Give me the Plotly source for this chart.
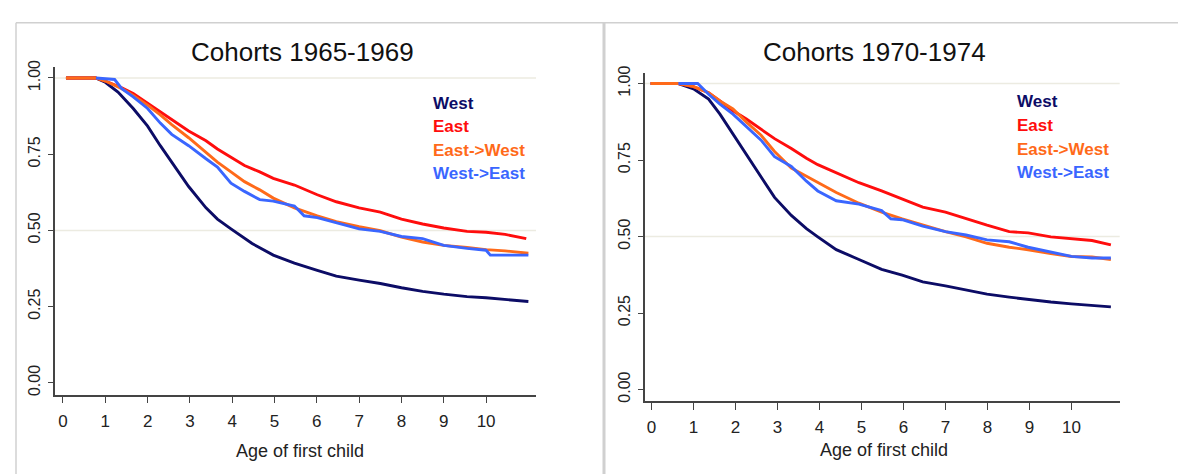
import plotly.graph_objects as go

W, H = 1186, 474
FONT = "Liberation Sans, Arial, Helvetica, sans-serif"

series_names = ["West", "East", "East->West", "West->East"]
series_colors = ["#0c0c66", "#ff0d0d", "#ff6a1a", "#3a66ff"]

panel_titles = ["Cohorts 1965-1969", "Cohorts 1970-1974"]
x_title = "Age of first child"
x_ticks = list(range(11))
y_ticks = [0.0, 0.25, 0.5, 0.75, 1.0]

# ---- Cohorts 1965-1969 (survival estimates) ----
c65_west_t = [0.07, 0.77, 1.0, 1.3, 1.66, 2.0, 2.3, 2.57, 2.97, 3.38, 3.65, 3.97, 4.47, 4.97,
              5.47, 6.01, 6.46, 7.0, 7.5, 8.0, 8.5, 9.0, 9.55, 10.0, 10.45, 11.0]
c65_west_v = [1.0, 1.0, 0.986, 0.954, 0.90, 0.842, 0.778, 0.724, 0.644, 0.574, 0.537, 0.505, 0.457, 0.419,
              0.393, 0.369, 0.35, 0.337, 0.326, 0.312, 0.30, 0.291, 0.283, 0.279, 0.273, 0.267]

c65_east_t = [0.07, 0.77, 1.0, 1.39, 1.66, 2.0, 2.3, 2.57, 2.97, 3.38, 3.65, 3.97, 4.29, 4.65, 4.97,
              5.47, 6.01, 6.46, 7.0, 7.5, 8.0, 8.5, 9.0, 9.55, 10.0, 10.45, 10.95]
c65_east_v = [1.0, 1.0, 0.99, 0.968, 0.949, 0.917, 0.89, 0.863, 0.826, 0.794, 0.767, 0.74, 0.713, 0.692, 0.671,
              0.649, 0.617, 0.594, 0.574, 0.56, 0.537, 0.521, 0.508, 0.497, 0.494, 0.487, 0.473]

c65_ew_t = [0.07, 0.77, 1.0, 1.39, 1.66, 2.0, 2.3, 2.57, 2.97, 3.38, 3.65, 3.97, 4.29, 4.65, 4.97,
            5.47, 6.01, 6.46, 7.0, 7.5, 8.0, 8.5, 9.0, 9.55, 10.0, 10.45, 11.0]
c65_ew_v = [1.0, 1.0, 0.99, 0.965, 0.943, 0.911, 0.879, 0.847, 0.804, 0.756, 0.724, 0.692, 0.66, 0.633, 0.606,
            0.574, 0.548, 0.529, 0.512, 0.499, 0.478, 0.462, 0.451, 0.444, 0.437, 0.433, 0.425]

c65_we_t = [0.78, 1.22, 1.39, 1.66, 2.0, 2.3, 2.57, 2.97, 3.38, 3.65, 3.97, 4.29, 4.65, 4.97, 5.47, 5.7,
            6.01, 6.46, 7.0, 7.5, 8.0, 8.5, 9.0, 9.55, 10.0, 10.1, 11.0]
c65_we_v = [1.0, 0.995, 0.965, 0.938, 0.9, 0.852, 0.815, 0.778, 0.735, 0.708, 0.655, 0.628, 0.601, 0.596, 0.58, 0.548,
            0.542, 0.526, 0.505, 0.497, 0.48, 0.473, 0.451, 0.441, 0.435, 0.419, 0.419]

# ---- Cohorts 1970-1974 ----
c70_t = [-0.02, 0.64, 1.0, 1.36, 1.63, 1.94, 2.26, 2.61, 2.93, 3.33, 3.69, 3.96, 4.4, 4.94,
         5.48, 5.97, 6.46, 7.0, 7.49, 7.99, 8.52, 8.97, 9.51, 10.0, 10.49, 10.94]
c70_west_v = [1.0, 1.0, 0.983, 0.949, 0.90, 0.836, 0.767, 0.697, 0.628, 0.569, 0.526, 0.499, 0.457, 0.425,
              0.393, 0.374, 0.352, 0.339, 0.326, 0.312, 0.302, 0.294, 0.286, 0.28, 0.275, 0.27]
c70_east_v = [1.0, 1.0, 0.99, 0.97, 0.943, 0.911, 0.884, 0.852, 0.82, 0.788, 0.756, 0.735, 0.708, 0.676,
              0.649, 0.622, 0.596, 0.58, 0.558, 0.537, 0.516, 0.512, 0.499, 0.494, 0.487, 0.473]
c70_ew_v = [1.0, 1.0, 0.99, 0.97, 0.943, 0.917, 0.874, 0.831, 0.778, 0.724, 0.697, 0.676, 0.644, 0.609,
            0.58, 0.558, 0.537, 0.516, 0.499, 0.478, 0.465, 0.457, 0.444, 0.435, 0.433, 0.425]

c70_we_t = [0.64, 1.1, 1.36, 1.63, 1.94, 2.26, 2.61, 2.93, 3.33, 3.69, 3.96, 4.4, 4.94, 5.48, 5.7,
            5.97, 6.46, 7.0, 7.49, 7.99, 8.52, 8.97, 9.51, 10.0, 10.49, 10.94]
c70_we_v = [1.0, 1.0, 0.965, 0.933, 0.90, 0.858, 0.815, 0.761, 0.729, 0.681, 0.649, 0.617, 0.606, 0.585, 0.558,
            0.555, 0.534, 0.516, 0.505, 0.489, 0.483, 0.465, 0.448, 0.435, 0.43, 0.43]

panels = [
    [(c65_west_t, c65_west_v), (c65_east_t, c65_east_v), (c65_ew_t, c65_ew_v), (c65_we_t, c65_we_v)],
    [(c70_t, c70_west_v), (c70_t, c70_east_v), (c70_t, c70_ew_v), (c70_we_t, c70_we_v)],
]

fig = go.Figure()
for p, series in enumerate(panels):
    xa = "x" if p == 0 else "x2"
    ya = "y" if p == 0 else "y2"
    for (t, v), name, col in zip(series, series_names, series_colors):
        fig.add_trace(go.Scatter(x=t, y=v, mode="lines", name=name, xaxis=xa, yaxis=ya,
                                 line=dict(color=col, width=2.9), showlegend=False,
                                 hoverinfo="skip"))

def px_x(px):
    return px / W

def px_y(py):
    return 1 - py / H

AX = "#444444"
common_x = dict(tickvals=x_ticks, ticks="outside", ticklen=7, tickwidth=1.4, tickcolor=AX,
                showline=True, linecolor=AX, linewidth=1.6, showgrid=False, zeroline=False,
                tickfont=dict(family=FONT, size=17, color="#222"), ticklabelstandoff=3)
common_y = dict(tickvals=y_ticks, tickformat=".2f", tickangle=-90, ticks="outside", ticklen=5,
                tickwidth=1.4, tickcolor=AX, showline=True, linecolor=AX, linewidth=1.6,
                showgrid=False, zeroline=False, tickfont=dict(family=FONT, size=16, color="#222"),
                ticklabelstandoff=2)

fig.update_layout(
    width=W, height=H, margin=dict(l=0, r=0, t=0, b=0),
    paper_bgcolor="white", plot_bgcolor="white",
    xaxis=dict(domain=[px_x(46.7), px_x(528)], range=[-0.196, 11.18], anchor="y", **common_x),
    yaxis=dict(domain=[px_y(387), px_y(52.7)], range=[-0.0386, 1.037], anchor="x", **common_y),
    xaxis2=dict(domain=[px_x(636.7), px_x(1111.7)], range=[-0.162, 11.15], anchor="y2", **common_x),
    yaxis2=dict(domain=[px_y(393.3), px_y(59.3)], range=[-0.037, 1.034], anchor="x2", **common_y),
)

shapes = []
for xr, yr in (("x domain", "y"), ("x2 domain", "y2")):
    for gy in (1.0, 0.5):
        shapes.append(dict(type="line", xref=xr, yref=yr, x0=0, x1=1, y0=gy, y1=gy,
                           line=dict(color="#ecebe1", width=1.5), layer="below"))
# panel frames
BORDER = "#d0d0d0"
shapes.append(dict(type="line", xref="paper", yref="paper", x0=px_x(8), x1=1.0,
                   y0=px_y(8), y1=px_y(8), line=dict(color=BORDER, width=1.5)))
shapes.append(dict(type="line", xref="paper", yref="paper", x0=px_x(8), x1=px_x(8),
                   y0=px_y(8), y1=0, line=dict(color=BORDER, width=1.5)))
shapes.append(dict(type="line", xref="paper", yref="paper", x0=px_x(596), x1=px_x(596),
                   y0=px_y(8), y1=0, line=dict(color=BORDER, width=3)))
fig.update_layout(shapes=shapes)

ann = []
title_pos = [(294.5, 38), (866, 38)]
xtitle_pos = [(292, 444), (876, 443)]
legend_pos = [(422.7, [90, 114, 138, 162]), (1007, [88, 113, 137, 161])]
for p in range(2):
    tx, ty = title_pos[p]
    ann.append(dict(text=panel_titles[p], x=px_x(tx), y=px_y(ty), xref="paper", yref="paper",
                    xanchor="center", yanchor="middle", showarrow=False,
                    font=dict(family=FONT, size=26, color="#111")))
    ax_, ay_ = xtitle_pos[p]
    ann.append(dict(text=x_title, x=px_x(ax_), y=px_y(ay_), xref="paper", yref="paper",
                    xanchor="center", yanchor="middle", showarrow=False,
                    font=dict(family=FONT, size=18, color="#222")))
    lx, lys = legend_pos[p]
    for name, col, ly in zip(series_names, series_colors, lys):
        ann.append(dict(text="<b>" + name.replace(">", "&gt;") + "</b>", x=px_x(lx), y=px_y(ly),
                        xref="paper", yref="paper", xanchor="left", yanchor="middle",
                        showarrow=False, font=dict(family=FONT, size=17, color=col)))
fig.update_layout(annotations=ann)

fig.write_html("out.html")
